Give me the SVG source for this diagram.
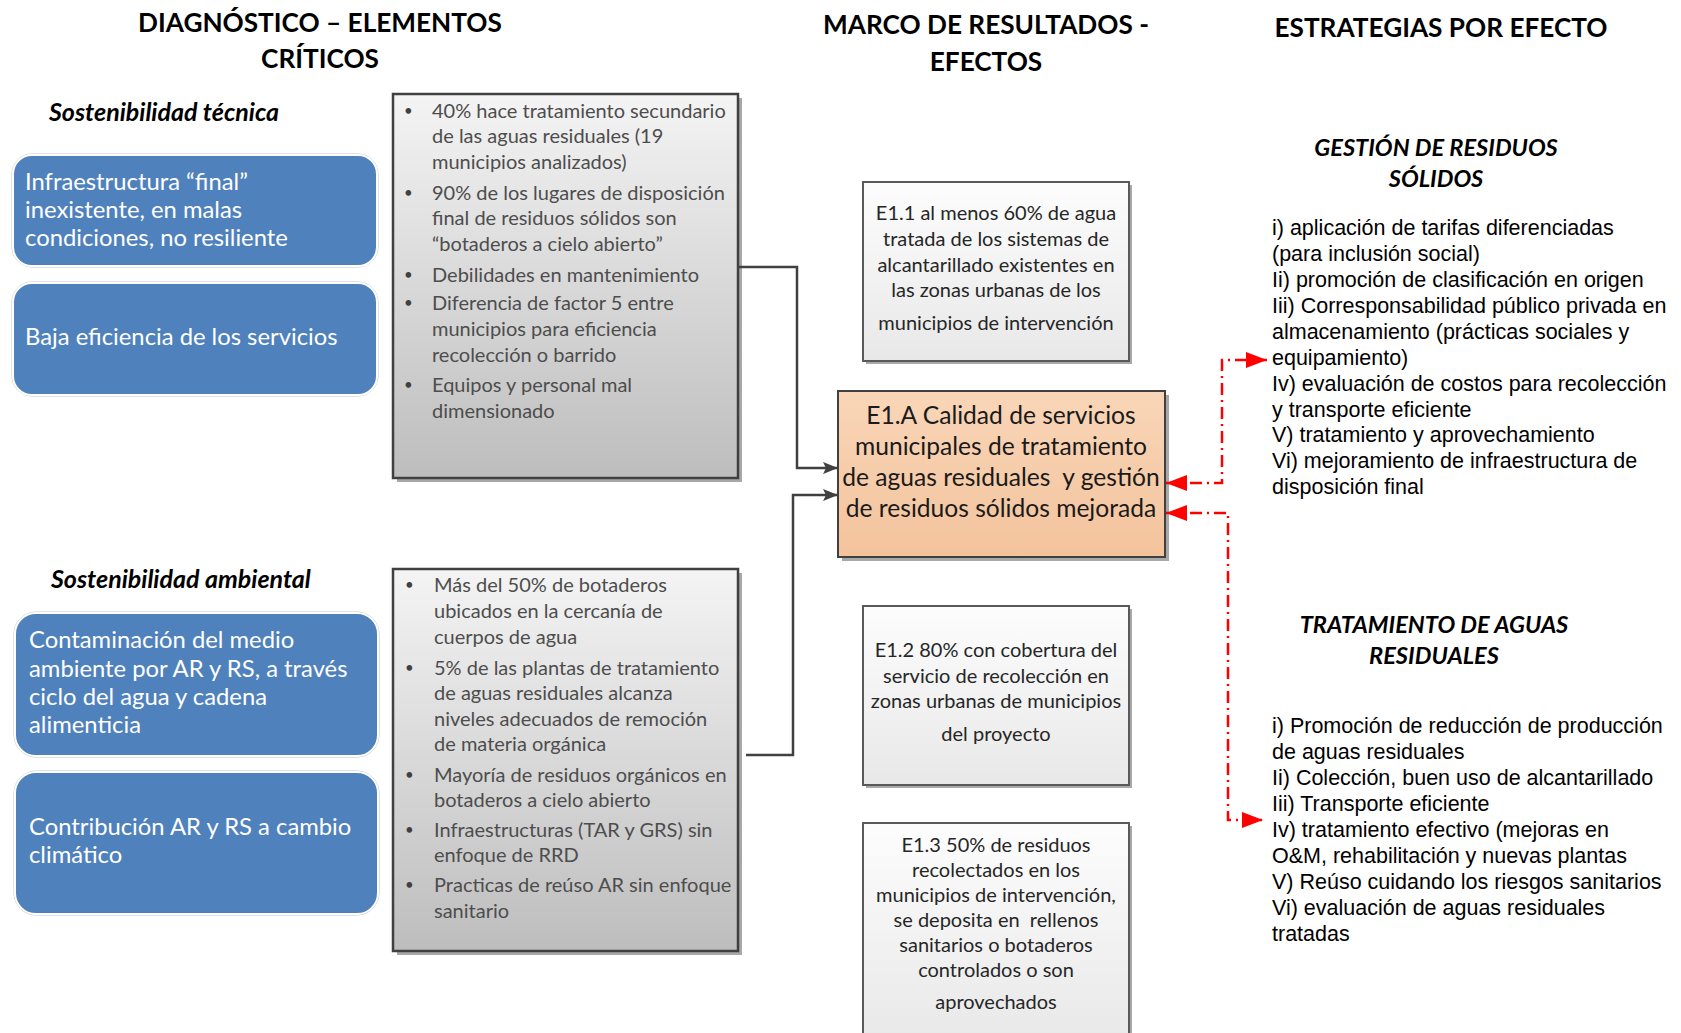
<svg xmlns="http://www.w3.org/2000/svg" width="1681" height="1033" viewBox="0 0 1681 1033">
<defs>
<linearGradient id="gGray" x1="0" y1="0" x2="0" y2="1">
<stop offset="0" stop-color="#f4f4f4"/><stop offset="1" stop-color="#bdbdbd"/>
</linearGradient>
<linearGradient id="gLight" x1="0" y1="0" x2="0" y2="1">
<stop offset="0" stop-color="#fdfdfd"/><stop offset="1" stop-color="#e8e8e8"/>
</linearGradient>
<linearGradient id="gOrange" x1="0" y1="0" x2="0" y2="1">
<stop offset="0" stop-color="#f9d6b8"/><stop offset="1" stop-color="#f3c39c"/>
</linearGradient>
<marker id="arrDark" markerUnits="userSpaceOnUse" markerWidth="16" markerHeight="14" refX="15" refY="7" orient="auto">
<path d="M0,1 L15,7 L0,13 L3,7 z" fill="#404040"/>
</marker>
<marker id="arrRed" markerUnits="userSpaceOnUse" markerWidth="22" markerHeight="16" refX="21" refY="8" orient="auto-start-reverse">
<path d="M0,0 L21,8 L0,16 z" fill="#ff0000"/>
</marker>
</defs>
<style>
.title{font-family:Lato,"Open Sans",sans-serif;font-weight:bold;font-size:26.2px;fill:#000;text-anchor:middle}
.sub{font-family:Lato,"Open Sans",sans-serif;font-weight:bold;font-style:italic;font-size:25px;fill:#000}
.sub2{font-family:Lato,"Open Sans",sans-serif;font-weight:bold;font-style:italic;font-size:23.6px;fill:#000;text-anchor:middle}
.blue{fill:#4f81bd;stroke:#ffffff;stroke-width:2}
.blueOut{fill:none;stroke:#c4c4c4;stroke-width:1}
.btxt{font-family:Lato,"Open Sans",sans-serif;font-size:23.8px;fill:#ffffff}
.gbox{fill:url(#gGray);stroke:#404040;stroke-width:2.5}
.shadow{fill:#a8a8a8}
.gtxt{font-family:Lato,"Open Sans",sans-serif;font-size:20px;fill:#4d4d4d}
.bul{font-family:Lato,"Open Sans",sans-serif;font-size:15px;fill:#404040}
.ebox{fill:url(#gLight);stroke:#5a5a5a;stroke-width:2}
.etxt{font-family:Lato,"Open Sans",sans-serif;font-size:20px;fill:#262626;text-anchor:middle}
.obox{fill:url(#gOrange);stroke:#404040;stroke-width:2}
.otxt{font-family:Lato,"Open Sans",sans-serif;font-size:24.6px;fill:#1a1a1a;text-anchor:middle}
.rtxt{font-family:"Liberation Sans",Arial,sans-serif;font-size:21.5px;fill:#000}
.conn{fill:none;stroke:#404040;stroke-width:2.5;marker-end:url(#arrDark)}
.red{fill:none;stroke:#ff0000;stroke-width:2.5;stroke-dasharray:12 5 2 5;marker-start:url(#arrRed);marker-end:url(#arrRed)}
</style>
<rect width="1681" height="1033" fill="#ffffff"/>

<g id="titles">
<text class="title" x="320" y="32">DIAGNÓSTICO – ELEMENTOS</text>
<text class="title" x="320" y="68">CRÍTICOS</text>
<text class="title" x="986" y="34">MARCO DE RESULTADOS -</text>
<text class="title" x="986" y="71">EFECTOS</text>
<text class="title" x="1441" y="37">ESTRATEGIAS POR EFECTO</text>
</g>

<g id="heading-tecnica"><text class="sub" x="49" y="121">Sostenibilidad técnica</text></g>
<g id="heading-ambiental"><text class="sub" x="51" y="588">Sostenibilidad ambiental</text></g>

<g id="node-infraestructura">
<rect class="blueOut" x="12" y="154" width="366" height="113" rx="20"/>
<rect class="blue" x="13" y="155" width="364" height="111" rx="19"/>
<text class="btxt"><tspan x="25" y="190">Infraestructura “final”</tspan><tspan x="25" y="218">inexistente, en malas</tspan><tspan x="25" y="246">condiciones, no resiliente</tspan></text>
</g>
<g id="node-baja-eficiencia">
<rect class="blueOut" x="12" y="282" width="366" height="114" rx="20"/>
<rect class="blue" x="13" y="283" width="364" height="112" rx="19"/>
<text class="btxt" x="25" y="345">Baja eficiencia de los servicios</text>
</g>
<g id="node-contaminacion">
<rect class="blueOut" x="14" y="612" width="365" height="145" rx="22"/>
<rect class="blue" x="15" y="613" width="363" height="143" rx="21"/>
<text class="btxt"><tspan x="29" y="648">Contaminación del medio</tspan><tspan x="29" y="677">ambiente por AR y RS, a través</tspan><tspan x="29" y="705">ciclo del agua y cadena</tspan><tspan x="29" y="733">alimenticia</tspan></text>
</g>
<g id="node-contribucion">
<rect class="blueOut" x="14" y="771" width="365" height="144" rx="22"/>
<rect class="blue" x="15" y="772" width="363" height="142" rx="21"/>
<text class="btxt"><tspan x="29" y="835">Contribución AR y RS a cambio</tspan><tspan x="29" y="863">climático</tspan></text>
</g>

<g id="node-diag-tecnica">
<rect class="shadow" x="397" y="98" width="345" height="384"/>
<rect class="gbox" x="393" y="94" width="345" height="384"/>
<g class="gtxt">
<text class="bul" x="404" y="116">•</text><text x="432" y="118">40% hace tratamiento secundario</text>
<text x="432" y="143">de las aguas residuales (19</text>
<text x="432" y="169">municipios analizados)</text>
<text class="bul" x="404" y="198">•</text><text x="432" y="200">90% de los lugares de disposición</text>
<text x="432" y="225">final de residuos sólidos son</text>
<text x="432" y="251">“botaderos a cielo abierto”</text>
<text class="bul" x="404" y="280">•</text><text x="432" y="282">Debilidades en mantenimiento</text>
<text class="bul" x="404" y="308">•</text><text x="432" y="310">Diferencia de factor 5 entre</text>
<text x="432" y="336">municipios para eficiencia</text>
<text x="432" y="362">recolección o barrido</text>
<text class="bul" x="404" y="390">•</text><text x="432" y="392">Equipos y personal mal</text>
<text x="432" y="418">dimensionado</text>
</g>
</g>

<g id="node-diag-ambiental">
<rect class="shadow" x="397" y="573" width="345" height="382"/>
<rect class="gbox" x="393" y="569" width="345" height="382"/>
<g class="gtxt">
<text class="bul" x="405" y="590">•</text><text x="434" y="592">Más del 50% de botaderos</text>
<text x="434" y="618">ubicados en la cercanía de</text>
<text x="434" y="644">cuerpos de agua</text>
<text class="bul" x="405" y="673">•</text><text x="434" y="675">5% de las plantas de tratamiento</text>
<text x="434" y="700">de aguas residuales alcanza</text>
<text x="434" y="726">niveles adecuados de remoción</text>
<text x="434" y="751">de materia orgánica</text>
<text class="bul" x="405" y="780">•</text><text x="434" y="782">Mayoría de residuos orgánicos en</text>
<text x="434" y="807">botaderos a cielo abierto</text>
<text class="bul" x="405" y="835">•</text><text x="434" y="837">Infraestructuras (TAR y GRS) sin</text>
<text x="434" y="862">enfoque de RRD</text>
<text class="bul" x="405" y="890">•</text><text x="434" y="892">Practicas de reúso AR sin enfoque</text>
<text x="434" y="918">sanitario</text>
</g>
</g>

<g id="node-e11">
<rect class="shadow" x="866" y="185" width="266" height="179"/>
<rect class="ebox" x="863" y="182" width="266" height="179"/>
<text class="etxt"><tspan x="996" y="220">E1.1 al menos 60% de agua</tspan><tspan x="996" y="246">tratada de los sistemas de</tspan><tspan x="996" y="272">alcantarillado existentes en</tspan><tspan x="996" y="297">las zonas urbanas de los</tspan><tspan x="996" y="330">municipios de intervención</tspan></text>
</g>

<g id="node-e1a">
<rect class="shadow" x="842" y="395" width="327" height="166"/>
<rect class="obox" x="838" y="391" width="327" height="166"/>
<text class="otxt" xml:space="preserve"><tspan x="1001" y="424">E1.A Calidad de servicios</tspan><tspan x="1001" y="455">municipales de tratamiento</tspan><tspan x="1001" y="486">de aguas residuales  y gestión</tspan><tspan x="1001" y="517">de residuos sólidos mejorada</tspan></text>
</g>

<g id="node-e12">
<rect class="shadow" x="866" y="609" width="266" height="179"/>
<rect class="ebox" x="863" y="606" width="266" height="179"/>
<text class="etxt"><tspan x="996" y="657">E1.2 80% con cobertura del</tspan><tspan x="996" y="683">servicio de recolección en</tspan><tspan x="996" y="708">zonas urbanas de municipios</tspan><tspan x="996" y="741">del proyecto</tspan></text>
</g>

<g id="node-e13">
<rect class="shadow" x="866" y="826" width="266" height="220"/>
<rect class="ebox" x="863" y="823" width="266" height="220"/>
<text class="etxt" xml:space="preserve"><tspan x="996" y="852">E1.3 50% de residuos</tspan><tspan x="996" y="877">recolectados en los</tspan><tspan x="996" y="902">municipios de intervención,</tspan><tspan x="996" y="927">se deposita en  rellenos</tspan><tspan x="996" y="952">sanitarios o botaderos</tspan><tspan x="996" y="977">controlados o son</tspan><tspan x="996" y="1009">aprovechados</tspan></text>
</g>

<g id="node-gestion-residuos">
<text class="sub2" x="1436" y="156">GESTIÓN DE RESIDUOS</text>
<text class="sub2" x="1436" y="187">SÓLIDOS</text>
<text class="rtxt"><tspan x="1272" y="235">i) aplicación de tarifas diferenciadas</tspan><tspan x="1272" y="261">(para inclusión social)</tspan><tspan x="1272" y="287">Ii) promoción de clasificación en origen</tspan><tspan x="1272" y="313">Iii) Corresponsabilidad público privada en</tspan><tspan x="1272" y="339">almacenamiento (prácticas sociales y</tspan><tspan x="1272" y="365">equipamiento)</tspan><tspan x="1272" y="391">Iv) evaluación de costos para recolección</tspan><tspan x="1272" y="417">y transporte eficiente</tspan><tspan x="1272" y="442">V) tratamiento y aprovechamiento</tspan><tspan x="1272" y="468">Vi) mejoramiento de infraestructura de</tspan><tspan x="1272" y="494">disposición final</tspan></text>
</g>

<g id="node-tratamiento-aguas">
<text class="sub2" x="1434" y="633">TRATAMIENTO DE AGUAS</text>
<text class="sub2" x="1434" y="664">RESIDUALES</text>
<text class="rtxt"><tspan x="1272" y="733">i) Promoción de reducción de producción</tspan><tspan x="1272" y="759">de aguas residuales</tspan><tspan x="1272" y="785">Ii) Colección, buen uso de alcantarillado</tspan><tspan x="1272" y="811">Iii) Transporte eficiente</tspan><tspan x="1272" y="837">Iv) tratamiento efectivo (mejoras en</tspan><tspan x="1272" y="863">O&amp;M, rehabilitación y nuevas plantas</tspan><tspan x="1272" y="889">V) Reúso cuidando los riesgos sanitarios</tspan><tspan x="1272" y="915">Vi) evaluación de aguas residuales</tspan><tspan x="1272" y="941">tratadas</tspan></text>
</g>

<g id="connectors">
<path class="conn" d="M738,267 H797 V468 H838"/>
<path class="conn" d="M746,755 H793 V495 H838"/>
<path class="red" d="M1166,483 H1222 V360 H1267"/>
<path class="red" d="M1166,513 H1228 V820 H1263"/>
</g>
</svg>
